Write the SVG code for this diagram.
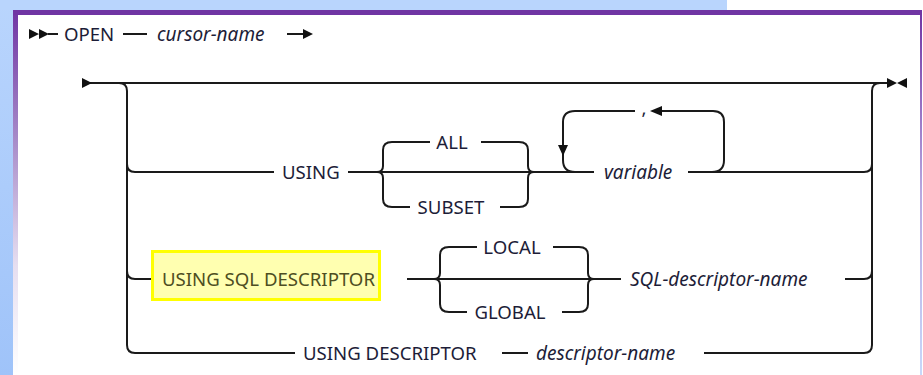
<svg xmlns="http://www.w3.org/2000/svg" width="923" height="375" viewBox="0 0 923 375">
  <defs>
    <linearGradient id="bgBlue" x1="0" y1="0" x2="0" y2="1">
      <stop offset="0" stop-color="#b9d5fd"/>
      <stop offset="1" stop-color="#9fc3f9"/>
    </linearGradient>
    <linearGradient id="frameSide" x1="0" y1="0" x2="0" y2="1">
      <stop offset="0" stop-color="#7035a3"/>
      <stop offset="0.35" stop-color="#a68ac8"/>
      <stop offset="0.7" stop-color="#e6def0"/>
      <stop offset="1" stop-color="#ffffff"/>
    </linearGradient>
    <linearGradient id="frameRight" x1="0" y1="0" x2="0" y2="1">
      <stop offset="0" stop-color="#7035a3"/>
      <stop offset="0.5" stop-color="#b8a8e0"/>
      <stop offset="1" stop-color="#c8d8fa"/>
    </linearGradient>
  </defs>
  <style>
    .ln { fill: none; stroke: #1a1a1a; stroke-width: 2; stroke-linecap: butt; }
    .kw { font-family: "Noto Sans", "Liberation Sans", sans-serif; font-size: 18.6px; fill: #1d1d38; }
    .var { font-family: "Noto Sans", "Liberation Sans", sans-serif; font-size: 19px; font-style: italic; fill: #1d1d38; }
    .hl { fill: #ffffb0; stroke: #ffff00; stroke-width: 3; }
    .hlt { font-family: "Noto Sans", "Liberation Sans", sans-serif; font-size: 18.6px; fill: #4e4e22; }
    .tip { fill: #111; }
  </style>

  <!-- page background and frame -->
  <rect x="0" y="0" width="923" height="375" fill="#ffffff"/>
  <rect x="0" y="0" width="13" height="375" fill="url(#bgBlue)"/>
  <rect x="0" y="0" width="727" height="10" fill="#b9d5fd"/>
  <rect x="13" y="10" width="5" height="365" fill="url(#frameSide)"/>
  <rect x="920" y="10" width="2" height="365" fill="url(#frameRight)"/>
  <rect x="13" y="10" width="909" height="5" fill="#7035a3"/>

  <!-- header line: OPEN cursor-name -->
  <g id="header">
    <path class="tip" d="M29,29 L39,34 L29,39 Z M39,29 L49,34 L39,39 Z"/>
    <line class="ln" x1="48" y1="34" x2="58" y2="34"/>
    <text class="kw" x="64" y="40.5">OPEN</text>
    <line class="ln" x1="123" y1="34" x2="147" y2="34"/>
    <text class="var" x="157" y="40.5">cursor-name</text>
    <line class="ln" x1="287" y1="34" x2="304" y2="34"/>
    <path class="tip" d="M303,29 L313,34 L303,39 Z"/>
  </g>

  <!-- connectors of the main railroad -->
  <g id="connectors">
    <!-- main (empty) path -->
    <line class="ln" x1="90" y1="83" x2="890" y2="83"/>
    <path class="tip" d="M82,78 L92,83 L82,88 Z"/>
    <path class="tip" d="M887,78 L897,83 L887,88 Z M907,78 L897,83 L907,88 Z"/>
    <!-- left split rail -->
    <path class="ln" d="M119,83 Q127,83 127,91 L127,345 Q127,353 135,353"/>
    <path class="ln" d="M127,164 Q127,172 135,172"/>
    <path class="ln" d="M127,271 Q127,279 135,279"/>
    <!-- right join rail -->
    <path class="ln" d="M880,83 Q872,83 872,91 L872,345 Q872,353 864,353"/>
    <path class="ln" d="M864,172 Q872,172 872,164"/>
    <path class="ln" d="M864,279 Q872,279 872,271"/>

    <!-- USING branch -->
    <line class="ln" x1="135" y1="172" x2="274" y2="172"/>
    <line class="ln" x1="348" y1="172" x2="594" y2="172"/>
    <line class="ln" x1="688" y1="172" x2="864" y2="172"/>
    <!-- ALL / SUBSET brace -->
    <path class="ln" d="M430,142 L392,142 Q383,142 383,150 L383,166 Q383,172 377,172 Q383,172 383,178 L383,199 Q383,207 392,207 L410,207"/>
    <path class="ln" d="M481,142 L519,142 Q528,142 528,150 L528,166 Q528,172 534,172 Q528,172 528,178 L528,199 Q528,207 519,207 L500,207"/>
    <!-- repeat loop over variable -->
    <path class="ln" d="M575,172 Q563,172 563,160 L563,122 Q563,111 575,111 L635,111"/>
    <path class="tip" d="M558,145 L568,145 L563,156 Z"/>
    <path class="ln" d="M660,111 L713,111 Q724,111 724,122 L724,160 Q724,172 712,172"/>
    <path class="tip" d="M662,106 L650,111 L662,116 Z"/>

    <!-- USING SQL DESCRIPTOR branch -->
    <line class="ln" x1="135" y1="279" x2="152" y2="279"/>
    <line class="ln" x1="407" y1="279" x2="621" y2="279"/>
    <line class="ln" x1="845" y1="279" x2="864" y2="279"/>
    <!-- LOCAL / GLOBAL brace -->
    <path class="ln" d="M477,247 L449,247 Q440,247 440,255 L440,273 Q440,279 434,279 Q440,279 440,285 L440,304 Q440,312 449,312 L467,312"/>
    <path class="ln" d="M553,247 L579,247 Q588,247 588,255 L588,273 Q588,279 594,279 Q588,279 588,285 L588,304 Q588,312 579,312 L562,312"/>

    <!-- USING DESCRIPTOR branch -->
    <line class="ln" x1="135" y1="353" x2="295" y2="353"/>
    <line class="ln" x1="502" y1="353" x2="528" y2="353"/>
    <line class="ln" x1="704" y1="353" x2="864" y2="353"/>
  </g>

  <g id="using">
    <text class="kw" x="282" y="178.5">USING</text>
  </g>
  <g id="all">
    <text class="kw" x="452" y="148.5" text-anchor="middle">ALL</text>
  </g>
  <g id="subset">
    <text class="kw" x="451" y="213.5" text-anchor="middle">SUBSET</text>
  </g>
  <g id="comma">
    <text class="kw" x="644" y="115" text-anchor="middle">,</text>
  </g>
  <g id="variable">
    <text class="var" x="604" y="178.5">variable</text>
  </g>

  <g id="using-sql-descriptor">
    <rect class="hl" x="152.5" y="251.5" width="227" height="48"/>
    <text class="hlt" x="162" y="285.5">USING SQL DESCRIPTOR</text>
  </g>
  <g id="local">
    <text class="kw" x="512" y="253.5" text-anchor="middle">LOCAL</text>
  </g>
  <g id="global">
    <text class="kw" x="510" y="319" text-anchor="middle">GLOBAL</text>
  </g>
  <g id="sql-descriptor-name">
    <text class="var" x="630" y="285.5">SQL-descriptor-name</text>
  </g>

  <g id="using-descriptor">
    <text class="kw" x="303" y="359.5">USING DESCRIPTOR</text>
  </g>
  <g id="descriptor-name">
    <text class="var" x="536" y="359.5">descriptor-name</text>
  </g>
</svg>
